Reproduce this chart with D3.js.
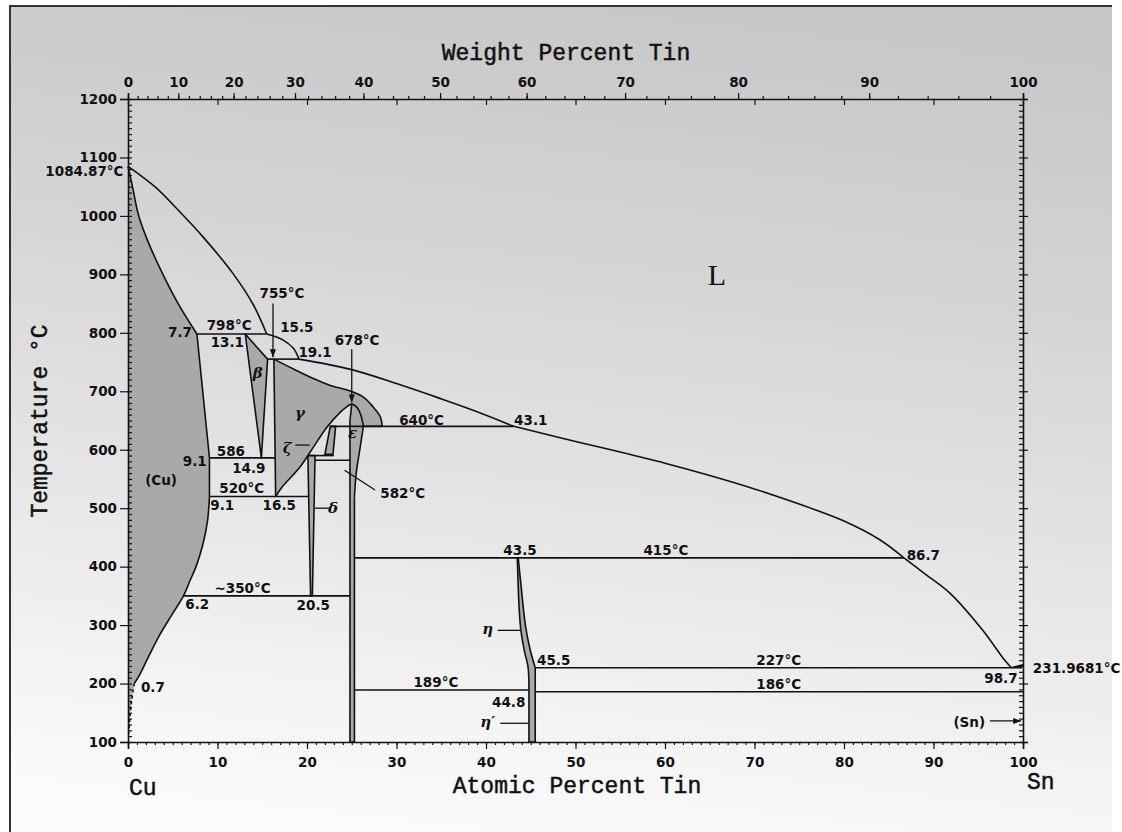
<!DOCTYPE html>
<html>
<head>
<meta charset="utf-8">
<script src="https://cdn.jsdelivr.net/npm/d3@7"></script>
<style>
  body { margin: 0; background: #fff; }
  svg { display: block; }
</style>
</head>
<body>
<svg id="chart" width="1122" height="832"></svg>
<script>
// Cu–Sn equilibrium phase diagram. Composition axis is atomic percent Sn,
// the upper axis shows the matching weight percent Sn.

// ---- axis ticks ----
const atTicks = d3.range(0, 101, 10);
const atMinor = d3.range(0, 101, 1);
const wtTicks = d3.range(0, 101, 10);
const wtMinor = d3.range(0, 101, 2);
const tempTicks = d3.range(100, 1201, 100);
const tempMinor = d3.range(100, 1201, 10);

// ---- phase boundaries: [at.% Sn, °C] ----
const cuSolidus = [[0, 1084.87], [0.5, 1050], [1.2, 1000], [2.4, 950], [3.9, 900], [5.6, 850], [7.7, 798]];
const cuSolvusHigh = [[7.7, 798], [9.1, 586], [9.1, 520]];
const cuSolvusLow = [[9.1, 520], [8.9, 480], [8.4, 440], [7.6, 400], [6.9, 375], [6.2, 350], [5.0, 320], [3.5, 282], [2.2, 243], [1.3, 215], [0.7, 200]];
const cuSolvusDashed = [[0.7, 200], [0.4, 170], [0.2, 140], [0.05, 110]];

const liquidusA = [[0, 1084.87], [3, 1050], [5.6, 1010], [8.5, 962], [11.8, 900], [14, 848], [15.5, 798]];
const liquidusB = [[15.5, 798], [17.3, 788], [18.5, 773], [19.1, 755]];
const liquidusC = [[19.1, 755], [25, 737], [30.4, 711], [35, 687], [39, 665], [43.1, 640]];
const liquidusD = [[43.1, 640], [50, 614], [55, 596], [60, 577], [65, 556], [70, 533], [75, 507], [80, 478], [84, 446], [86.7, 415]];
const liquidusE = [[86.7, 415], [89, 388], [91.8, 355], [95.5, 291], [97.8, 243], [98.7, 227]];
const liquidusF = [[98.7, 227], [100, 231.9681]];

const betaPhase = [[13.1, 798], [14.3, 777], [15.6, 755], [14.9, 586]];

const gammaSolidus = [[16.3, 755], [18.5, 738], [20.7, 722], [22.6, 710], [24.5, 702], [26.3, 690], [27.4, 673], [28.2, 656], [28.4, 640]];
const gammaArc = [[26.3, 640], [26.0, 660], [25.6, 672], [25.0, 678], [24.4, 673], [23.7, 664], [22.2, 638], [20.7, 604], [19.2, 570], [17.2, 536], [16.5, 520]];
const gammaLeft = [[16.5, 520], [16.3, 755]];

const epsilonEdge = [[25.0, 678], [24.8, 650], [24.8, 100], [25.3, 100], [25.3, 520]];
const epsilonRight = [[25.3, 520], [25.5, 560], [25.9, 600], [26.3, 640]];

const zetaPhase = [[22.6, 640], [23.2, 640], [22.9, 592], [22.0, 592]];
const deltaPhase = [[20.1, 590], [20.9, 590], [20.6, 350], [20.4, 350]];

const etaLeft = [[43.5, 415], [43.7, 330], [43.9, 291], [44.3, 255], [44.7, 228], [44.8, 189]];
const etaLower = [[44.8, 189], [44.8, 100], [45.5, 100], [45.5, 227]];
const etaRight = [[45.5, 227], [44.9, 260], [44.4, 300], [43.9, 370], [43.6, 415]];

// invariant lines: [°C, from at.%, to at.%]
const isotherms = [
  [798, 7.7, 15.5],
  [755, 15.6, 19.1],
  [640, 22.6, 43.1],
  [586, 9.1, 16.45],
  [590, 20.1, 23.0],
  [582, 20.9, 24.8],
  [520, 9.1, 20.2],
  [350, 6.2, 24.8],
  [415, 25.3, 86.7],
  [227, 45.5, 99.9],
  [189, 25.3, 44.8],
  [186, 45.5, 100]
];

// leader lines and arrows: [[at.%, °C], [at.%, °C]]
const leaders = [
  [[18.7, 608], [20.3, 608]],
  [[20.9, 500], [22.4, 500]],
  [[27.6, 531], [24.2, 565]],
  [[41.3, 291], [43.8, 291]],
  [[41.6, 132], [44.8, 132]]
];
const arrows = [
  [[16.2, 850], [16.2, 758]],
  [[25.0, 772], [25.0, 681]],
  [[96.3, 136], [99.8, 136]]
];

// text annotations: [text, at.%, °C, anchor]
const valueLabels = [
  ['1084.87°C', -0.5, 1068, 'end'],
  ['231.9681°C', 101.1, 218, 'start'],
  ['755°C', 17.2, 859, 'middle'],
  ['798°C', 11.3, 804, 'middle'],
  ['15.5', 17.0, 802, 'start'],
  ['7.7', 7.15, 792, 'end'],
  ['13.1', 11.1, 775, 'middle'],
  ['19.1', 20.9, 759, 'middle'],
  ['678°C', 25.6, 779, 'middle'],
  ['640°C', 32.8, 643, 'middle'],
  ['43.1', 45.0, 643, 'middle'],
  ['586', 11.5, 590, 'middle'],
  ['9.1', 8.8, 573, 'end'],
  ['14.9', 13.5, 560, 'middle'],
  ['520°C', 12.7, 526, 'middle'],
  ['9.1', 9.2, 497, 'start'],
  ['16.5', 16.9, 497, 'middle'],
  ['582°C', 30.7, 517, 'middle'],
  ['(Cu)', 3.7, 539, 'middle'],
  ['~350°C', 12.8, 355, 'middle'],
  ['6.2', 6.4, 327, 'start'],
  ['20.5', 20.7, 325, 'middle'],
  ['0.7', 1.45, 185, 'start'],
  ['43.5', 43.8, 420, 'middle'],
  ['415°C', 60.1, 420, 'middle'],
  ['86.7', 87.0, 411, 'start'],
  ['45.5', 45.7, 232, 'start'],
  ['227°C', 72.7, 232, 'middle'],
  ['98.7', 99.4, 201, 'end'],
  ['189°C', 34.4, 194, 'middle'],
  ['186°C', 72.7, 190, 'middle'],
  ['44.8', 44.4, 160, 'end'],
  ['(Sn)', 94.0, 126, 'middle']
];
const phaseLabels = [
  ['β', 14.5, 722],
  ['γ', 19.2, 654],
  ['ε', 25.1, 620],
  ['ζ', 17.8, 594],
  ['δ', 22.9, 492],
  ['η', 40.2, 284],
  ['η′', 40.2, 126]
];
const liquidLabel = ['L', 65.8, 881];

// ---- scales ----
const x = d3.scaleLinear().domain([0, 100]).range([128, 1023]);
const y = d3.scaleLinear().domain([100, 1200]).range([742, 99]);
const MW_SN = 118.71, MW_CU = 63.546;
const wtToAt = w => w === 100 ? 100 : 100 * (w / MW_SN) / (w / MW_SN + (100 - w) / MW_CU);

const svg = d3.select('#chart');
const defs = svg.append('defs');

const bg = defs.append('linearGradient').attr('id', 'bg')
  .attr('x1', 0.55).attr('y1', 0).attr('x2', 0.4).attr('y2', 1);
[[0, '#c8c8c8'], [0.3, '#d4d4d4'], [0.6, '#e4e4e4'], [0.85, '#f3f3f3'], [1, '#fbfbfb']]
  .forEach(([o, c]) => bg.append('stop').attr('offset', o).attr('stop-color', c));

defs.append('marker').attr('id', 'head')
  .attr('viewBox', '0 0 8 6').attr('refX', 8).attr('refY', 3)
  .attr('markerWidth', 8).attr('markerHeight', 6)
  .attr('markerUnits', 'userSpaceOnUse').attr('orient', 'auto')
  .append('path').attr('d', 'M0,0L8,3L0,6Z').attr('fill', '#111');

svg.append('rect').attr('x', 10).attr('y', 6).attr('width', 1102).attr('height', 826).attr('fill', 'url(#bg)');
svg.append('path').attr('d', 'M10,832V6H1112').attr('fill', 'none').attr('stroke', '#333').attr('stroke-width', 2);

// ---- path helpers ----
const smooth = d3.line().x(d => x(d[0])).y(d => y(d[1])).curve(d3.curveCatmullRom.alpha(0.5));
const straight = d3.line().x(d => x(d[0])).y(d => y(d[1]));
function chain(parts, close) {
  const s = parts.map(([pts, curved], i) => {
    const d = (curved ? smooth : straight)(pts);
    return i ? d.replace(/^M/, 'L') : d;
  }).join('');
  return close ? s + 'Z' : s;
}

const FILL = '#a9a9a9', INK = '#111', LW = 1.6;

// ---- single-phase fields ----
const fields = svg.append('g').attr('fill', FILL).attr('stroke', 'none');
fields.append('path').attr('d', chain([
  [cuSolidus, 1], [cuSolvusHigh, 0], [cuSolvusLow, 1], [cuSolvusDashed, 1],
  [[[0.05, 110], [0, 105], [0, 1084.87]], 0]
], true));
fields.append('path').attr('d', chain([[betaPhase, 0]], true));
fields.append('path').attr('d', chain([
  [gammaSolidus, 1], [[[28.4, 640], [26.3, 640]], 0], [gammaArc, 1], [gammaLeft, 0]
], true));
fields.append('path').attr('d', chain([
  [epsilonEdge, 0], [epsilonRight, 1], [gammaArc.slice(0, 4), 1]
], true));
fields.append('path').attr('d', chain([[zetaPhase, 0]], true));
fields.append('path').attr('d', chain([[deltaPhase, 0]], true));
fields.append('path').attr('d', chain([[etaLeft, 1], [etaLower, 0], [etaRight, 1]], true));

// ---- boundary lines ----
const lines = svg.append('g').attr('fill', 'none').attr('stroke', INK)
  .attr('stroke-width', LW).attr('stroke-linejoin', 'round');
[cuSolidus, cuSolvusLow, liquidusA, liquidusB, liquidusC, liquidusD, liquidusE, gammaSolidus, gammaArc, epsilonRight, etaLeft, etaRight]
  .forEach(pts => lines.append('path').attr('d', smooth(pts)));
[cuSolvusHigh, liquidusF, gammaLeft, [[28.4, 640], [26.3, 640]], epsilonEdge]
  .forEach(pts => lines.append('path').attr('d', straight(pts)));
lines.append('path').attr('d', straight(betaPhase) + 'Z');
lines.append('path').attr('d', straight(zetaPhase) + 'Z');
lines.append('path').attr('d', straight(deltaPhase) + 'Z');
lines.append('path').attr('d', straight(etaLower));
lines.append('path').attr('d', smooth(cuSolvusDashed)).attr('stroke-dasharray', '3,3');

lines.selectAll('line.iso').data(isotherms).join('line').attr('class', 'iso')
  .attr('x1', d => x(d[1])).attr('x2', d => x(d[2]))
  .attr('y1', d => y(d[0])).attr('y2', d => y(d[0]));

const marks = svg.append('g').attr('stroke', INK).attr('stroke-width', 1.3);
marks.selectAll('line.lead').data(leaders).join('line').attr('class', 'lead')
  .attr('x1', d => x(d[0][0])).attr('y1', d => y(d[0][1]))
  .attr('x2', d => x(d[1][0])).attr('y2', d => y(d[1][1]));
marks.selectAll('line.arr').data(arrows).join('line').attr('class', 'arr')
  .attr('x1', d => x(d[0][0])).attr('y1', d => y(d[0][1]))
  .attr('x2', d => x(d[1][0])).attr('y2', d => y(d[1][1]))
  .attr('marker-end', 'url(#head)');

// ---- axes ----
const TICK_FONT = 'DejaVu Sans, sans-serif';
function styleAxis(g, labels) {
  g.selectAll('path.domain').attr('stroke', INK).attr('stroke-width', 1.6);
  g.selectAll('.tick line').attr('stroke', INK).attr('stroke-width', 1.2);
  g.selectAll('.tick text').attr('fill', INK).attr('font-family', TICK_FONT)
    .attr('font-size', 13.5).attr('font-weight', 'bold');
  if (!labels) g.selectAll('.tick text').remove();
}
const B = y(100), T = y(1200), L0 = x(0), R0 = x(100);

svg.append('g').attr('transform', `translate(0,${B})`)
  .call(d3.axisBottom(x).tickValues(atMinor).tickSize(3).tickFormat(''))
  .call(g => { g.select('.domain').remove(); styleAxis(g, false); });
svg.append('g').attr('transform', `translate(0,${B})`)
  .call(d3.axisBottom(x).tickValues(atTicks).tickSize(7).tickPadding(8).tickFormat(d3.format('d')))
  .call(g => styleAxis(g, true));

svg.append('g').attr('transform', `translate(${L0},0)`)
  .call(d3.axisRight(y).tickValues(tempMinor).tickSize(4).tickFormat(''))
  .call(g => { g.select('.domain').remove(); styleAxis(g, false); });
svg.append('g').attr('transform', `translate(${L0},0)`)
  .call(d3.axisLeft(y).tickValues(tempTicks).tickSize(8).tickPadding(3).tickFormat(d3.format('d')))
  .call(g => styleAxis(g, true));

svg.append('g').attr('transform', `translate(${R0},0)`)
  .call(d3.axisLeft(y).tickValues(tempMinor).tickSize(4).tickFormat(''))
  .call(g => { g.select('.domain').remove(); styleAxis(g, false); });
svg.append('g').attr('transform', `translate(${R0},0)`)
  .call(d3.axisRight(y).tickValues(tempTicks).tickSize(5).tickFormat(''))
  .call(g => styleAxis(g, false));

svg.append('g').attr('transform', `translate(0,${T})`)
  .call(d3.axisTop(x).tickValues(wtMinor.map(wtToAt)).tickSize(3).tickFormat(''))
  .call(g => { g.select('.domain').remove(); styleAxis(g, false); });
svg.append('g').attr('transform', `translate(0,${T})`)
  .call(d3.axisBottom(x).tickValues(atTicks).tickSize(6).tickFormat(''))
  .call(g => { g.select('.domain').remove(); styleAxis(g, false); });
svg.append('g').attr('transform', `translate(0,${T})`)
  .call(d3.axisTop(x).tickValues(wtTicks.map(wtToAt)).tickSize(6).tickPadding(6)
    .tickFormat((d, i) => wtTicks[i]))
  .call(g => styleAxis(g, true));

// ---- titles ----
const TITLE_FONT = 'Liberation Mono, Courier New, monospace';
const titles = svg.append('g').attr('font-family', TITLE_FONT).attr('font-size', 23)
  .attr('fill', INK).attr('stroke', INK).attr('stroke-width', 0.5);
titles.append('text').attr('x', 566).attr('y', 60).attr('text-anchor', 'middle').text('Weight Percent Tin');
titles.append('text').attr('x', 577).attr('y', 793).attr('text-anchor', 'middle').text('Atomic Percent Tin');
titles.append('text').attr('transform', 'translate(47,421) rotate(-90)').attr('text-anchor', 'middle').text('Temperature °C');
titles.append('text').attr('x', 129).attr('y', 795).text('Cu');
titles.append('text').attr('x', 1027).attr('y', 789).text('Sn');

// ---- annotations ----
svg.append('g').attr('font-family', TICK_FONT).attr('font-size', 13.5).attr('font-weight', 'bold').attr('fill', INK)
  .selectAll('text').data(valueLabels).join('text')
  .attr('x', d => x(d[1])).attr('y', d => y(d[2])).attr('text-anchor', d => d[3]).text(d => d[0]);

svg.append('g').attr('font-family', 'DejaVu Serif, serif').attr('font-style', 'italic')
  .attr('font-size', 15).attr('font-weight', 'bold').attr('fill', INK).attr('text-anchor', 'middle')
  .selectAll('text').data(phaseLabels).join('text')
  .attr('x', d => x(d[1])).attr('y', d => y(d[2])).text(d => d[0]);

svg.append('text').attr('x', x(liquidLabel[1])).attr('y', y(liquidLabel[2]))
  .attr('text-anchor', 'middle').attr('font-family', 'Liberation Serif, serif')
  .attr('font-size', 30).attr('fill', INK).text(liquidLabel[0]);
</script>
</body>
</html>
